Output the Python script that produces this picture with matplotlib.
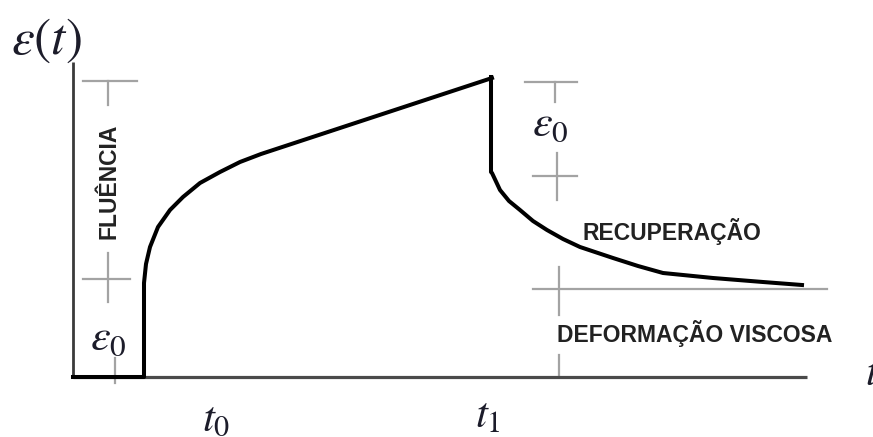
import matplotlib
matplotlib.use('Agg')
import matplotlib.pyplot as plt

plt.rcParams['mathtext.fontset'] = 'stix'

# creep curve (time, strain)
creep_t = [0, 71, 71, 73, 77, 85, 97, 110, 127, 147, 167, 188, 419]
creep_eps = [0, 0, 94, 113, 130, 150, 167, 180, 194, 205, 215, 223, 299]

# recovery curve after unloading at t1
recov_t = [418, 418, 419, 427, 436, 447, 460, 474, 490, 507, 540, 565, 590, 640, 690, 729]
recov_eps = [300, 205, 204, 187, 176, 167, 156, 147, 138, 130, 119, 111, 104, 99, 95, 92]

# guide marks (strain levels of the bracket ticks)
left_top, left_mid, left_low = 296, 98, 0
right_top, right_mid, right_low = 295, 201, 88
viscous_end = 754

t_axis_end = 734
eps_axis_end = 315

fig = plt.figure(figsize=(8.73, 4.37), dpi=100)
ax = fig.add_axes([0, 0, 1, 1])
ax.set_xlim(-73, 800)
ax.set_ylim(-60, 377)
ax.axis('off')

gray = '#a3a3a3'
glw = 1.6

# left bracket (creep)
ax.plot([10, 64], [left_top, left_top], color=gray, lw=glw)
ax.plot([35, 35], [left_top, left_top - 24], color=gray, lw=glw)
ax.plot([10, 57], [left_mid, left_mid], color=gray, lw=glw)
ax.plot([35, 35], [left_mid + 26, left_mid - 23], color=gray, lw=glw)
ax.plot([42, 42], [left_low + 19, left_low - 6], color=gray, lw=glw)

# right bracket (recovery)
ax.plot([452, 504], [right_top, right_top], color=gray, lw=glw)
ax.plot([482, 482], [right_top, right_top - 20], color=gray, lw=glw)
ax.plot([460, 504], [right_mid, right_mid], color=gray, lw=glw)
ax.plot([484, 484], [right_mid + 23, right_mid - 24], color=gray, lw=glw)
ax.plot([460, viscous_end], [right_low, right_low], color=gray, lw=glw)
ax.plot([486, 486], [right_low + 22, right_low - 26], color=gray, lw=glw)
ax.plot([486, 486], [22, 0], color=gray, lw=glw)

# axes
ax.plot([0, t_axis_end], [0, 0], color='#4a4a4a', lw=2.3, solid_capstyle='butt')
ax.plot([0, 0], [0, eps_axis_end], color='#3a3a3a', lw=2.0, solid_capstyle='butt')

# strain curves
ax.plot(creep_t, creep_eps, color='black', lw=2.9, solid_joinstyle='round')
ax.plot(recov_t, recov_eps, color='black', lw=2.9, solid_joinstyle='round')

math_c = '#1c1c2a'
ax.text(-27, 337, r'$\varepsilon(t)$', fontsize=37, color=math_c, ha='center', va='center')
ax.text(35, 39, r'$\varepsilon_0$', fontsize=32, color=math_c, ha='center', va='center')
ax.text(477, 253, r'$\varepsilon_0$', fontsize=32, color=math_c, ha='center', va='center')
ax.text(143, -41, r'$t_0$', fontsize=31, color=math_c, ha='center', va='center')
ax.text(415, -38, r'$t_1$', fontsize=31, color=math_c, ha='center', va='center')
ax.text(792, 4, r'$t$', fontsize=31, color=math_c, ha='left', va='center')

lab = dict(family='Liberation Sans', fontweight='bold', fontsize=16.5, color='#222222')
ax.text(36, 196, 'FLUÊNCIA', rotation=90, ha='center', va='center', **lab)
ax.text(509, 137, 'RECUPERAÇÃO', ha='left', va='baseline', **lab)
ax.text(484, 35, 'DEFORMAÇÃO VISCOSA', ha='left', va='baseline', **lab)

fig.savefig('out.png', dpi=100)
